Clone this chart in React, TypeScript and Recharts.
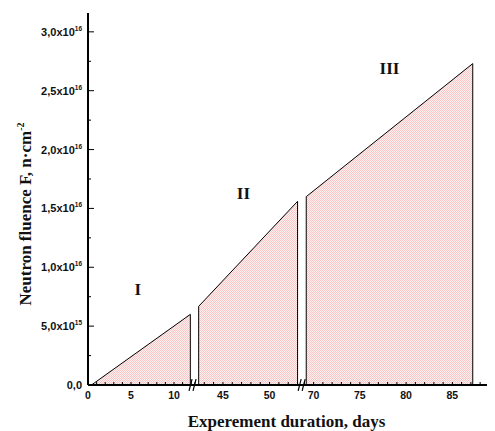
import { ComposedChart, Area, XAxis, YAxis, ReferenceLine, ReferenceArea, ReferenceDot } from 'recharts';

// irradiation phases
const phases = ['I', 'II', 'III'];
const phaseDays = [
  [0.4, 11.9],
  [42.4, 53.0],
  [69.2, 87.2],
];
const phaseFluence = [
  [0, 6.0e15],
  [6.68e15, 15.6e15],
  [16.0e15, 27.3e15],
];
const phaseLabelDays = [5.8, 47.2, 78.2];
const phaseLabelFluence = [8.2e15, 16.3e15, 26.9e15];

const yTicks = [0, 2.5e15, 5e15, 7.5e15, 1e16, 1.25e16, 1.5e16, 1.75e16, 2e16, 2.25e16, 2.5e16, 2.75e16, 3e16];

// broken x axis: each piece of days is laid out on its own stretch of a virtual axis
const X_SEGMENTS = [
  { from: 0, to: 12.1, at: 0, k: 8.6 },
  { from: 41.9, to: 53.4, at: 106, k: 9.33 },
  { from: 68.85, to: 90.1, at: 215, k: 9.25 },
];
const X_MAX = 411;
const Y_MAX = 3.16e16;

const toV = (d: number) => {
  const s = X_SEGMENTS.find(s => d >= s.from - 1e-9 && d <= s.to + 1e-9) ?? X_SEGMENTS[0];
  return s.at + (d - s.from) * s.k;
};

const tickDays: number[] = [];
X_SEGMENTS.forEach(s => {
  for (let d = Math.ceil(s.from); d <= Math.floor(s.to); d++) tickDays.push(d);
});
const tickMap = new Map(tickDays.map(d => [toV(d), d]));

const breaks = X_SEGMENTS.slice(1).map((s, i) => {
  const p = X_SEGMENTS[i];
  return (p.at + (p.to - p.from) * p.k + s.at) / 2;
});

const rows: any[] = [];
phases.forEach((_, i) => {
  const key = `p${i}`;
  const [d0, d1] = phaseDays[i];
  const [f0, f1] = phaseFluence[i];
  rows.push({ v: toV(d0), [key]: 0 });
  rows.push({ v: toV(d0), [key]: f0 });
  rows.push({ v: toV(d1), [key]: f1 });
  rows.push({ v: toV(d1), [key]: 0 });
});

const SANS = 'Liberation Sans, Arial, sans-serif';
const SERIF = 'Liberation Serif, Times New Roman, serif';

const XTick = ({ x, y, payload }: any) => {
  const d = tickMap.get(payload.value) ?? 0;
  return (
    <g>
      <line x1={x} x2={x} y1={y} y2={y - 3} stroke="#000" strokeWidth={1} />
      {d % 5 === 0 && (
        <text x={x} y={y + 14} textAnchor="middle" fontSize={10.5} fontWeight="bold" fontFamily={SANS} fill="#111">
          {d}
        </text>
      )}
    </g>
  );
};

const YTick = ({ x, y, payload }: any) => {
  const v = payload.value;
  const major = Math.round(v / 2.5e15) % 2 === 0;
  let body: any = null;
  if (major) {
    if (v === 0) body = '0,0';
    else {
      const e = Math.floor(Math.log10(v) + 1e-9);
      const m = (v / Math.pow(10, e)).toFixed(1).replace('.', ',');
      body = (
        <>
          {m}x10<tspan dy={-5} fontSize={6.5}>{e}</tspan>
        </>
      );
    }
  }
  return (
    <g>
      <line x1={x} x2={x + (major ? 6 : 3)} y1={y} y2={y} stroke="#000" strokeWidth={1} />
      {major && (
        <text x={x - 6} y={y + 4} textAnchor="end" fontSize={11} fontWeight="bold" fontFamily={SANS} fill="#111">
          {body}
        </text>
      )}
    </g>
  );
};

const YTitle = ({ viewBox }: any) => {
  const cx = viewBox.x + 17;
  const cy = viewBox.y + viewBox.height / 2 + 15;
  return (
    <text x={cx} y={cy} transform={`rotate(-90 ${cx} ${cy})`} textAnchor="middle" dy={6}
      fontSize={17} fontWeight="bold" fontFamily={SERIF} fill="#111">
      Neutron fluence F, n·cm<tspan dy={-7} fontSize={10}>-2</tspan>
    </text>
  );
};

const XTitle = ({ viewBox }: any) => (
  <text x={viewBox.x + viewBox.width / 2 - 7} y={viewBox.y + 42} textAnchor="middle"
    fontSize={17} fontWeight="bold" fontFamily={SERIF} fill="#111">
    Experement duration, days
  </text>
);

export default function App() {
  return (
    <div style={{ width: 487, height: 423, overflow: 'hidden' }}>
      <ComposedChart width={491} height={423} data={rows} margin={{ top: 5, right: 0, bottom: 0, left: 0 }}>
        <defs>
          <pattern id="pinkDots" width={2} height={2} patternUnits="userSpaceOnUse">
            <rect width={2} height={2} fill="#fff0f0" />
            <rect width={1} height={1} fill="#f8c8c8" />
            <rect x={1} y={1} width={1} height={1} fill="#f8c8c8" />
          </pattern>
        </defs>
        <XAxis
          dataKey="v"
          type="number"
          domain={[0, X_MAX]}
          allowDataOverflow
          ticks={tickDays.map(toV)}
          interval={0}
          tick={<XTick />}
          tickLine={false}
          tickSize={0}
          tickMargin={0}
          height={46}
          axisLine={{ stroke: '#000', strokeWidth: 2 }}
          label={{ content: <XTitle /> }}
        />
        <XAxis xAxisId="top" orientation="top" type="number" domain={[0, X_MAX]} height={0}
          tick={false} tickLine={false} axisLine={{ stroke: '#000', strokeWidth: 1.5 }} />
        <YAxis
          type="number"
          domain={[0, Y_MAX]}
          allowDataOverflow
          ticks={yTicks}
          interval={0}
          tick={<YTick />}
          tickLine={false}
          tickSize={0}
          tickMargin={0}
          width={80}
          axisLine={{ stroke: '#000', strokeWidth: 2 }}
          label={{ content: <YTitle /> }}
        />
        {phases.map((_, i) => (
          <Area
            key={i}
            type="linear"
            dataKey={`p${i}`}
            stroke="#000"
            strokeWidth={1}
            fill="url(#pinkDots)"
            fillOpacity={1}
            dot={false}
            activeDot={false}
            isAnimationActive={false}
          />
        ))}
        {breaks.map(b => (
          <ReferenceArea key={`g${b}`} x1={b - 2.5} x2={b + 2.5} y1={-0.02e16} y2={0.02e16}
            fill="#fff" fillOpacity={1} stroke="none" ifOverflow="visible" />
        ))}
        {breaks.map(b => (
          <ReferenceLine key={`a${b}`} segment={[{ x: b - 4, y: -0.05e16 }, { x: b - 1, y: 0.05e16 }]}
            stroke="#000" strokeWidth={1.2} ifOverflow="visible" />
        ))}
        {breaks.map(b => (
          <ReferenceLine key={`b${b}`} segment={[{ x: b, y: -0.05e16 }, { x: b + 3, y: 0.05e16 }]}
            stroke="#000" strokeWidth={1.2} ifOverflow="visible" />
        ))}
        {phases.map((p, i) => (
          <ReferenceDot key={p} x={toV(phaseLabelDays[i])} y={phaseLabelFluence[i]} r={0}
            fill="none" stroke="none"
            label={{ value: p, position: 'center', fill: '#111', fontSize: 17, fontWeight: 'bold', fontFamily: SERIF }} />
        ))}
      </ComposedChart>
    </div>
  );
}
